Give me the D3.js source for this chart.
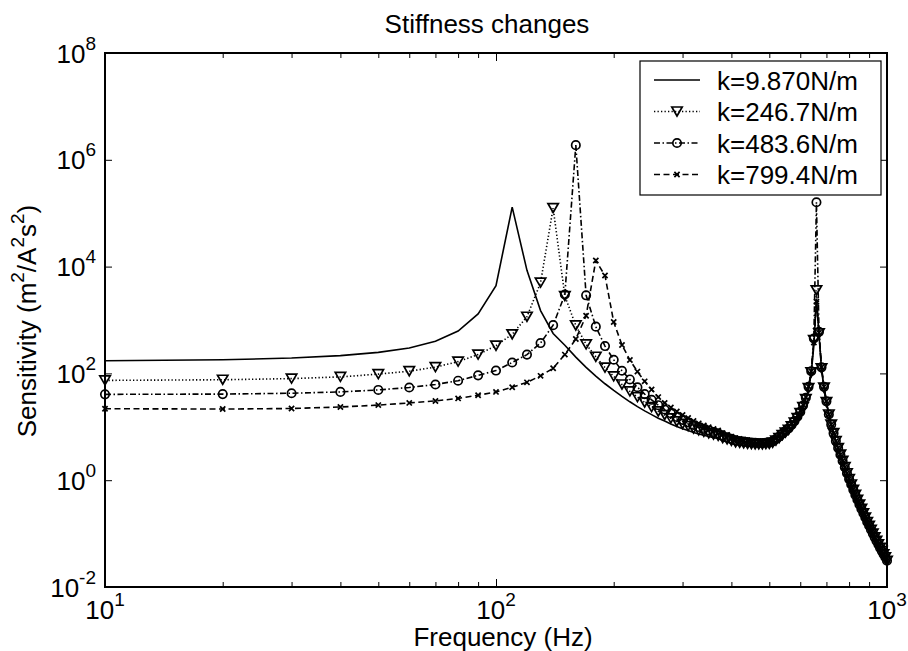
<!DOCTYPE html>
<html>
<head>
<meta charset="utf-8">
<script src="https://cdn.jsdelivr.net/npm/d3@7"></script>
<style>
  body { margin: 0; background: #fff; }
  text { font-family: "Liberation Sans", Arial, Helvetica, sans-serif; fill: #000; }
</style>
</head>
<body>
<div id="chart"></div>
<script>
// frequency grid (Hz)
const freqHz = [10,20,30,40,50,60,70,80,90,100,110,120,130,140,150,160,170,180,190,200,
  210,220,230,240,250,260,270,280,290,300,310,320,330,340,350,360,370,380,390,400,
  410,420,430,440,450,460,470,480,490,500,510,520,530,540,550,560,570,580,590,600,
  610,620,630,640,650,660,670,680,690,700,710,720,730,740,750,760,770,780,790,800,
  810,820,830,840,850,860,870,880,890,900,910,920,930,940,950,960,970,980,990,1000];

// sensitivity 10..700 Hz per stiffness
const sensK9870 = [173,180,194,215,248,300,400,620,1300,4400,
  130000,8500,1500,560,337,202,130,89,64,48,
  37,29.4,23.9,19.9,16.9,14.5,12.8,11.3,10.1,9.2,
  8.5,7.85,7.34,6.92,6.59,6.27,6.02,5.5,5.2,4.9,
  4.66,4.57,4.49,4.43,4.38,4.36,4.36,4.38,4.44,4.51,
  4.77,5.2,5.76,6.6,7.3,8.3,9.6,11.4,13.8,17.3,
  23,32,52,100,330,2500,520,120,52,28];
const sensK2467 = [74,76,80,86,97,110,131,166,225,330,
  540,1150,5000,125000,2800,790,350,205,128,88,
  62,46,36,28.5,23.4,19.4,16.6,14.4,12.6,11.3,
  10.3,9.3,8.6,8.05,7.58,7.15,6.81,6.17,5.82,5.44,
  5.13,5.02,4.9,4.81,4.74,4.71,4.68,4.7,4.75,4.81,
  5.04,5.53,6.14,7.0,7.8,8.8,10.2,12,14.5,18,
  23.5,33,53,105,420,3600,560,125,54,29];
const sensK4836 = [40.5,41,42.5,45,49,54.5,62,73,92,113,
  160,225,370,800,3000,1880000,2900,750,325,180,
  112,77,55,41,32,25.4,21.1,17.9,15.3,13.5,
  12.1,10.8,9.9,9.16,8.55,8.0,7.56,6.81,6.39,5.93,
  5.57,5.42,5.28,5.17,5.08,5.02,4.98,4.98,5.02,5.08,
  5.31,5.86,6.53,7.4,8.3,9.3,10.8,12.8,15.4,19,
  25,35,56,110,450,160000,600,130,56,30];
const sensK7994 = [21.8,21.5,22,23.5,25.5,28,30.5,34,39,45,
  55,68,90,125,225,440,1200,13000,6800,920,
  340,178,108,71,50,36,28,23,19.3,16.6,
  14.6,12.9,11.6,10.6,9.8,9.1,8.5,7.6,7.07,6.53,
  6.12,5.9,5.72,5.59,5.46,5.37,5.32,5.32,5.37,5.46,
  5.67,6.23,6.91,7.9,8.8,9.9,11.4,13.5,16.2,20,
  26,36,57,110,380,2200,580,130,56,30];
// 710..1000 Hz, where all four curves coincide
const tailSens = [17,11,7.6,5.4,4.0,3.0,2.3,1.75,1.35,1.05,
  0.83,0.66,0.53,0.43,0.35,0.29,0.24,0.2,0.165,0.14,
  0.118,0.1,0.085,0.073,0.063,0.054,0.047,0.041,0.036,0.031];

const seriesNames = ["k=9.870N/m", "k=246.7N/m", "k=483.6N/m", "k=799.4N/m"];
const xMajor = [10, 100, 1000];
const xMajorExp = ["1", "2", "3"];
const xMinor = [20,30,40,50,60,70,80,90,200,300,400,500,600,700,800,900];
const yMajor = [1e-2, 1e0, 1e2, 1e4, 1e6, 1e8];
const yMajorExp = ["-2", "0", "2", "4", "6", "8"];

const width = 908, height = 651;
const x0 = 105, x1 = 887, y0 = 587, y1 = 53;

const svg = d3.select("#chart").append("svg")
    .attr("width", width).attr("height", height)
    .style("background", "#fff");

const x = d3.scaleLog().domain([10, 1000]).range([x0, x1]);
const y = d3.scaleLog().domain([1e-2, 1e8]).range([y0, y1]);

const series = [sensK9870, sensK2467, sensK4836, sensK7994].map((vals, i) => ({
    name: seriesNames[i],
    points: freqHz.map((f, j) => ({ f, v: j < vals.length ? vals[j] : tailSens[j - vals.length] }))
}));

const styles = [
    { dash: null, marker: null },
    { dash: "1.3,2.2", marker: "tri" },
    { dash: "6,2.5,1.5,2.5", marker: "circle" },
    { dash: "6,3.5", marker: "x" }
];

// ticks (inward, both sides)
const tickStyle = g => {
    g.select(".domain").remove();
    g.selectAll("line").attr("stroke", "#000").attr("stroke-width", 1);
};
svg.append("g").attr("transform", `translate(0,${y0})`)
    .call(d3.axisBottom(x).tickValues(xMinor).tickSize(-5).tickFormat("")).call(tickStyle);
svg.append("g").attr("transform", `translate(0,${y0})`)
    .call(d3.axisBottom(x).tickValues(xMajor).tickSize(-8).tickFormat("")).call(tickStyle);
svg.append("g").attr("transform", `translate(0,${y1})`)
    .call(d3.axisTop(x).tickValues(xMinor).tickSize(-5).tickFormat("")).call(tickStyle);
svg.append("g").attr("transform", `translate(0,${y1})`)
    .call(d3.axisTop(x).tickValues(xMajor).tickSize(-8).tickFormat("")).call(tickStyle);
svg.append("g").attr("transform", `translate(${x0},0)`)
    .call(d3.axisLeft(y).tickValues(yMajor).tickSize(-7).tickFormat("")).call(tickStyle);
svg.append("g").attr("transform", `translate(${x1},0)`)
    .call(d3.axisRight(y).tickValues(yMajor).tickSize(-7).tickFormat("")).call(tickStyle);

// curves
const line = d3.line().x(d => x(d.f)).y(d => y(d.v));
const plot = svg.append("g");
const markerPath = {
    tri: "M-5.2,-4.5L5.2,-4.5L0,4.5Z",
    x: "M-2.6,-2.6L2.6,2.6M-2.6,2.6L2.6,-2.6"
};

function drawMarker(g, type, cx, cy) {
    if (type === "circle") {
        g.append("circle").attr("cx", cx).attr("cy", cy).attr("r", 4.2)
            .attr("fill", "none").attr("stroke", "#000").attr("stroke-width", 1.7);
    } else if (type) {
        g.append("path").attr("d", markerPath[type])
            .attr("transform", `translate(${cx},${cy})`)
            .attr("fill", "none").attr("stroke", "#000").attr("stroke-width", 1.7);
    }
}

series.forEach((s, i) => {
    const st = styles[i];
    const g = plot.append("g");
    g.append("path").datum(s.points)
        .attr("d", line)
        .attr("fill", "none").attr("stroke", "#000")
        .attr("stroke-width", 1.6)
        .attr("stroke-dasharray", st.dash);
    if (st.marker) {
        s.points.forEach(p => drawMarker(g, st.marker, x(p.f), y(p.v)));
    }
});

// frame
svg.append("rect").attr("x", x0).attr("y", y1)
    .attr("width", x1 - x0).attr("height", y0 - y1)
    .attr("fill", "none").attr("stroke", "#000").attr("stroke-width", 2);

// tick labels: 10 with superscript exponent
const fs = 26, sup = 19;
xMajor.forEach((v, i) => {
    const t = svg.append("text").attr("x", x(v)).attr("y", 619)
        .attr("text-anchor", "middle").style("font-size", fs + "px");
    t.append("tspan").text("10");
    t.append("tspan").attr("dy", -13).style("font-size", sup + "px").text(xMajorExp[i]);
});
yMajor.forEach((v, i) => {
    const t = svg.append("text").attr("x", 96).attr("y", y(v) + 9.5)
        .attr("text-anchor", "end").style("font-size", fs + "px");
    t.append("tspan").text("10");
    t.append("tspan").attr("dy", -13).style("font-size", sup + "px").text(yMajorExp[i]);
});

// title and axis labels
svg.append("text").attr("x", 487).attr("y", 33).attr("text-anchor", "middle")
    .style("font-size", fs + "px").text("Stiffness changes");
svg.append("text").attr("x", 503).attr("y", 646).attr("text-anchor", "middle")
    .style("font-size", fs + "px").text("Frequency (Hz)");

const yl = svg.append("text").attr("transform", "translate(36,321) rotate(-90)")
    .attr("text-anchor", "middle").style("font-size", fs + "px");
[["Sensitivity (m", 0], ["2", 1], ["/A", 0], ["2", 1], ["s", 0], ["2", 1], [")", 0]]
    .forEach(([txt, isSup], k, arr) => {
        const prevSup = k > 0 && arr[k - 1][1];
        const dy = isSup ? -12 : (prevSup ? 12 : 0);
        yl.append("tspan").attr("dy", dy)
            .style("font-size", (isSup ? sup : fs) + "px").text(txt);
    });

// legend
const lg = svg.append("g");
lg.append("rect").attr("x", 640).attr("y", 61).attr("width", 241).attr("height", 134)
    .attr("fill", "#fff").attr("stroke", "#000").attr("stroke-width", 1.2);
series.forEach((s, i) => {
    const ly = 80 + i * 31.5;
    const st = styles[i];
    const g = lg.append("g");
    g.append("line").attr("x1", 654).attr("x2", 700).attr("y1", ly).attr("y2", ly)
        .attr("stroke", "#000").attr("stroke-width", 1.6)
        .attr("stroke-dasharray", st.dash);
    if (st.marker) drawMarker(g, st.marker, 677, ly);
    g.append("text").attr("x", 717).attr("y", ly + 9.5)
        .style("font-size", fs + "px").text(s.name);
});
</script>
</body>
</html>
